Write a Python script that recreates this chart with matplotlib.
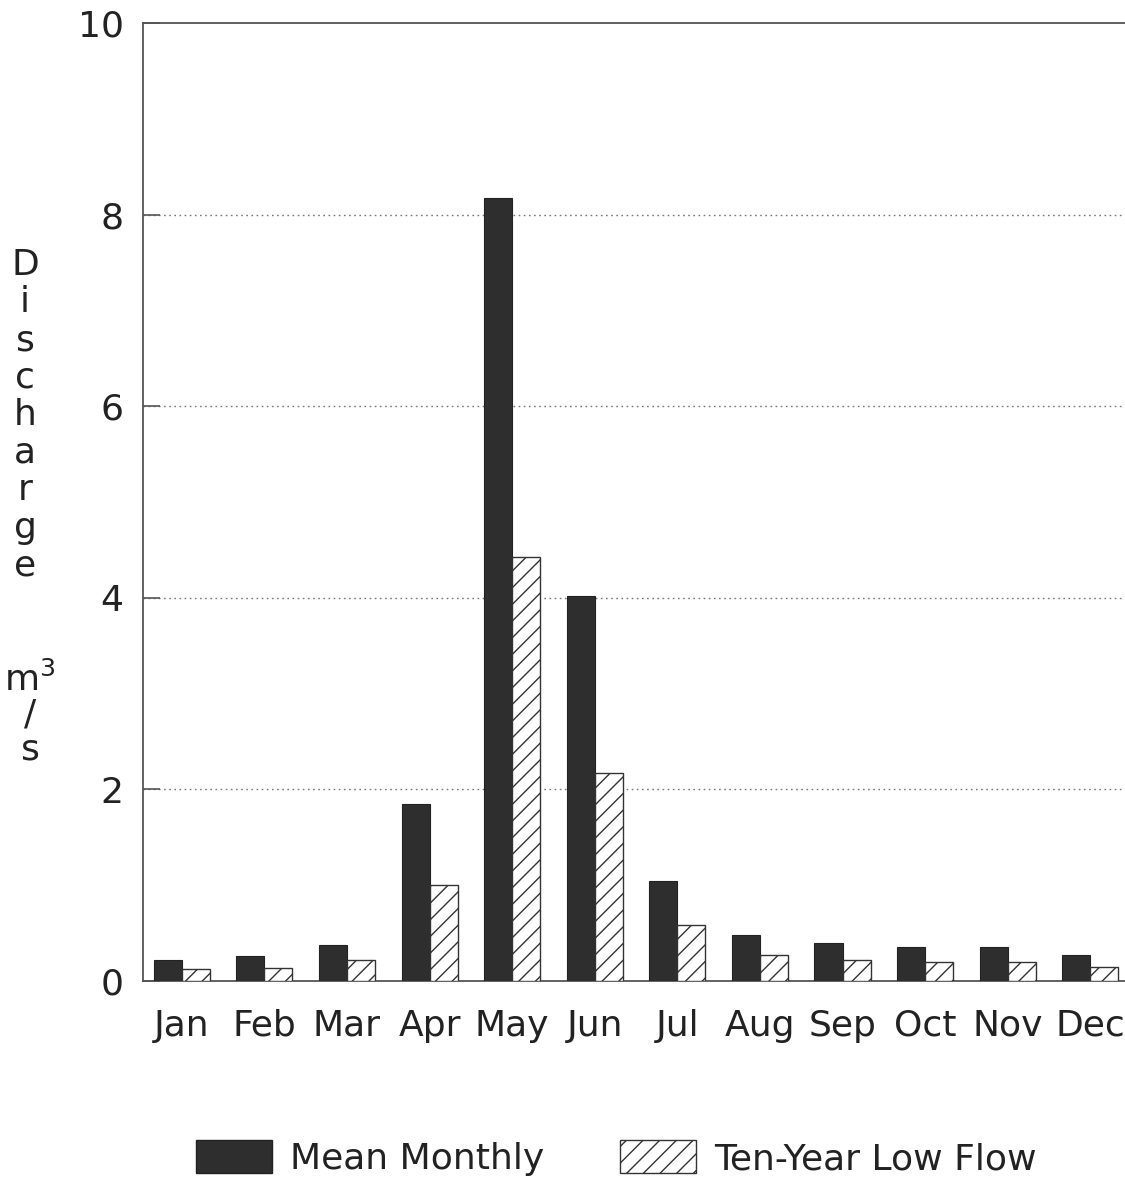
import matplotlib
matplotlib.use("Agg")
import matplotlib.pyplot as plt
import numpy as np
from matplotlib.patches import Patch

months = ["Jan", "Feb", "Mar", "Apr", "May", "Jun", "Jul", "Aug", "Sep", "Oct", "Nov", "Dec"]
mean_monthly = [0.22, 0.26, 0.38, 1.85, 8.17, 4.02, 1.04, 0.48, 0.40, 0.35, 0.35, 0.27]
ten_year_low = [0.13, 0.14, 0.22, 1.00, 4.43, 2.17, 0.58, 0.27, 0.22, 0.20, 0.20, 0.15]
yticks = [0, 2, 4, 6, 8, 10]
ylabel_letters = ["D", "i", "s", "c", "h", "a", "r", "g", "e"]
unit_letters = ["m$^3$", "/", "s"]

plt.rcParams['font.family'] = ['DejaVu Sans']
plt.rcParams['mathtext.fontset'] = 'dejavusans'
plt.rcParams['hatch.linewidth'] = 1.0
plt.rcParams['hatch.color'] = '#333333'

W, H = 1125, 1183
FS = 26
fig = plt.figure(figsize=(W / 100, H / 100), dpi=100)
ax = fig.add_axes([143 / W, 1 - 981 / H, 1 - 143 / W, (981 - 23) / H])

x = np.arange(len(months))
bw = 0.34
ax.bar(x - bw / 2, mean_monthly, width=bw, color='#2e2e2e', edgecolor='#222222', linewidth=0.8, zorder=3)
ax.bar(x + bw / 2, ten_year_low, width=bw, color='white', edgecolor='#333333', linewidth=1.0,
       hatch='//', zorder=3)

ax.set_xlim(-0.47, 11.42)
ax.set_ylim(0, 10)
ax.set_yticks(yticks)
ax.set_yticklabels([str(v) for v in yticks], fontsize=FS, color='#222222')
ax.tick_params(axis='y', direction='in', length=12, width=1.2, color='#555555', pad=14)
ax.set_xticks(x)
ax.set_xticklabels(months, fontsize=FS, color='#222222')
ax.tick_params(axis='x', length=0, pad=20)

for v in yticks[1:-1]:
    ax.axhline(v, color='#777777', linestyle=(0, (1.2, 2.5)), linewidth=1.0, zorder=1)

ax.spines['right'].set_visible(False)
for s in ['left', 'top', 'bottom']:
    ax.spines[s].set_color('#555555')
    ax.spines[s].set_linewidth(1.3)

# stacked vertical y-label
y0 = 265
for i, ch in enumerate(ylabel_letters):
    fig.text(25 / W, 1 - (y0 + i * 37.5) / H, ch, fontsize=FS, ha='center', va='center', color='#222222')
for i, ch in enumerate(unit_letters):
    fig.text(30 / W, 1 - (680 + i * 35) / H, ch, fontsize=FS, ha='center', va='center', color='#222222')

handles = [Patch(facecolor='#2e2e2e', edgecolor='#222222', label='Mean Monthly'),
           Patch(facecolor='white', edgecolor='#333333', hatch='//', label='Ten-Year Low Flow')]
fig.legend(handles=handles, loc='center', bbox_to_anchor=(616 / W, 1 - 1158 / H), ncol=2,
           frameon=False, fontsize=FS, handlelength=2.1, handleheight=1.05,
           handletextpad=0.5, columnspacing=2.1, labelcolor='#222222')

fig.savefig("out.png", dpi=100)
